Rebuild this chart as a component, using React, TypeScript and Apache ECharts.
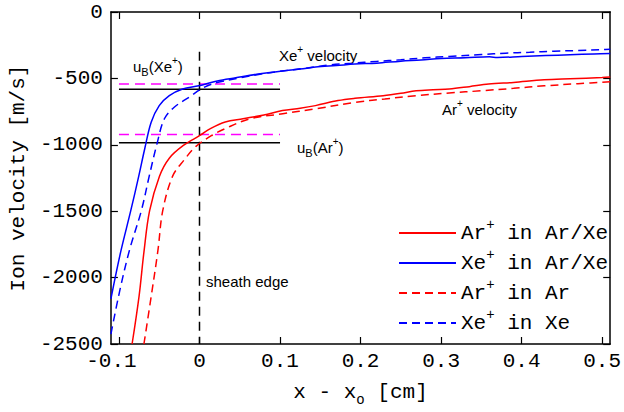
import React, { useEffect, useRef } from "react";
import * as echarts from "echarts";

const X_MIN = -0.11;
const X_MAX = 0.51;
const Y_MIN = -2500;
const Y_MAX = 0;
const Y_STEP = 500;
const xTickValues = [-0.1, 0, 0.1, 0.2, 0.3, 0.4, 0.5];

// Ar+ in Ar/Xe (red solid)
const arInArXe: [number, number][] = [
  [-0.0837, -2500], [-0.0751, -2143], [-0.069, -1808], [-0.062, -1498], [-0.0498, -1238],
  [-0.0375, -1101], [-0.02, -1005], [0.001, -928], [0.0135, -878], [0.032, -828],
  [0.054, -804], [0.08, -775], [0.103, -742], [0.125, -725], [0.144, -705],
  [0.172, -667], [0.193, -650], [0.228, -630], [0.25, -612], [0.269, -593],
  [0.29, -585], [0.31, -580], [0.335, -562], [0.359, -543], [0.39, -530],
  [0.428, -511], [0.46, -503], [0.5, -494], [0.51, -490],
];
// Xe+ in Ar/Xe (blue solid)
const xeInArXe: [number, number][] = [
  [-0.11, -2160], [-0.098, -1810], [-0.0855, -1500], [-0.0755, -1238], [-0.068, -1030],
  [-0.06, -830], [-0.05, -705], [-0.0375, -630], [-0.021, -580], [-0.001, -556],
  [0.022, -519], [0.045, -495], [0.071, -469], [0.103, -444], [0.125, -430],
  [0.144, -414], [0.17, -403], [0.193, -392], [0.22, -385], [0.25, -370],
  [0.275, -362], [0.3, -350], [0.33, -345], [0.36, -337], [0.37, -343],
  [0.4, -335], [0.43, -328], [0.46, -322], [0.49, -316], [0.51, -312],
];
// Ar+ in Ar (red dashed)
const arInAr: [number, number][] = [
  [-0.069, -2500], [-0.06, -2143], [-0.0515, -1790], [-0.0457, -1498], [-0.0335, -1238],
  [-0.0191, -1114], [-0.004, -1010], [0.0156, -928], [0.0319, -878], [0.0625, -804],
  [0.1034, -766], [0.1442, -729], [0.1933, -680], [0.23, -655], [0.269, -630],
  [0.31, -610], [0.35, -593], [0.39, -575], [0.428, -556], [0.47, -540], [0.51, -526],
];
// Xe+ in Xe (blue dashed)
const xeInXe: [number, number][] = [
  [-0.11, -2425], [-0.0988, -2093], [-0.0868, -1790], [-0.0723, -1498], [-0.0625, -1238],
  [-0.0527, -990], [-0.0436, -804], [-0.0314, -717], [-0.013, -642], [0.0054, -568],
  [0.0217, -531], [0.05, -497], [0.075, -468], [0.1, -447], [0.13, -425],
  [0.16, -400], [0.19, -385], [0.22, -372], [0.25, -360], [0.28, -345],
  [0.31, -335], [0.35, -320], [0.38, -310], [0.41, -303], [0.44, -295],
  [0.47, -290], [0.5, -283], [0.51, -280],
];

const bohmSpanX = [-0.1, 0.1];
const bohmXePure = -582;
const bohmXeMix = -543;
const bohmArPure = -985;
const bohmArMix = -923;
const sheathX = 0;
const sheathSpanY = [-300, -2500];

const legendNames = ["Ar+ in Ar/Xe", "Xe+ in Ar/Xe", "Ar+ in Ar", "Xe+ in Xe"];
const legendRich = [
  "{m|Ar}{s|+}{m| in Ar/Xe}",
  "{m|Xe}{s|+}{m| in Ar/Xe}",
  "{m|Ar}{s|+}{m| in Ar}",
  "{m|Xe}{s|+}{m| in Xe}",
];

const MONO = "'Liberation Mono', 'Courier New', monospace";
const SANS = "'Liberation Sans', Arial, sans-serif";
const MONO_SIZE = 21;

export default function App() {
  const ref = useRef<HTMLDivElement>(null);

  useEffect(() => {
    document.body.style.margin = "0";
    const chart = echarts.init(ref.current!, null, { renderer: "svg" });

    const curve = (name: string, data: [number, number][], color: string, dashed: boolean) => ({
      type: "line",
      name,
      data,
      symbol: "none",
      showSymbol: false,
      smooth: 0.35,
      silent: true,
      z: 4,
      lineStyle: { color, width: 1.5, type: dashed ? [8, 5] : "solid" },
      itemStyle: { color: "rgba(0,0,0,0)" },
      emphasis: { disabled: true },
    });

    const refLine = (xs: number[], ys: number[], color: string, dashed: number[] | null) => ({
      type: "line",
      data: xs.map((x, i) => [x, ys[i]]),
      symbol: "none",
      silent: true,
      z: 3,
      lineStyle: { color, width: 1.5, type: dashed ? dashed : "solid" },
      emphasis: { disabled: true },
    });

    const richMono = {
      m: { fontFamily: MONO, fontSize: MONO_SIZE, color: "#000", lineHeight: 30 },
      s: { fontFamily: MONO, fontSize: 14, color: "#000", lineHeight: 14, verticalAlign: "top" },
    };

    const richSans = {
      n: { fontFamily: SANS, fontSize: 15, fill: "#000", lineHeight: 22 },
      s: { fontFamily: SANS, fontSize: 10, fill: "#000", lineHeight: 10, verticalAlign: "top" },
      b: { fontFamily: SANS, fontSize: 11, fill: "#000", lineHeight: 11, verticalAlign: "bottom" },
    };

    const axisCommon = {
      type: "value",
      axisLine: { show: true, onZero: false, lineStyle: { color: "#000", width: 1.5 } },
      splitLine: { show: false },
    };

    const label = (x: number, y: number, text: string) => ({
      type: "text",
      x,
      y,
      silent: true,
      style: { text, rich: richSans, verticalAlign: "middle", align: "left", fill: "#000", font: `15px ${SANS}` },
    });

    chart.setOption({
      animation: false,
      backgroundColor: "#fff",
      grid: { left: 107, right: 11, top: 12, bottom: 64, containLabel: false },
      xAxis: [
        {
          ...axisCommon,
          position: "bottom",
          min: X_MIN,
          max: X_MAX,
          axisTick: { inside: true, length: 7, customValues: xTickValues, lineStyle: { color: "#000", width: 1.2 } },
          axisLabel: {
            customValues: xTickValues,
            fontFamily: MONO,
            fontSize: MONO_SIZE,
            color: "#000",
            margin: 7,
            formatter: (v: number) => {
              const s = String(Math.round(v * 10) / 10);
              return v < 0 ? `{neg|${s}}` : s;
            },
            rich: {
              neg: { fontFamily: MONO, fontSize: MONO_SIZE, color: "#000", padding: [0, 15, 0, 0] },
            },
          },
          name: "{m|x - x}{o|o}{m| [cm]}",
          nameLocation: "middle",
          nameGap: 33,
          nameTextStyle: {
            fontFamily: MONO,
            fontSize: MONO_SIZE,
            color: "#000",
            rich: {
              m: { fontFamily: MONO, fontSize: MONO_SIZE, color: "#000", lineHeight: 30 },
              o: { fontFamily: MONO, fontSize: 14, color: "#000", lineHeight: 14, verticalAlign: "bottom" },
            },
          },
        },
        {
          ...axisCommon,
          position: "top",
          min: X_MIN,
          max: X_MAX,
          axisTick: { inside: true, length: 7, customValues: xTickValues, lineStyle: { color: "#000", width: 1.2 } },
          axisLabel: { show: false },
        },
      ],
      yAxis: [
        {
          ...axisCommon,
          position: "left",
          min: Y_MIN,
          max: Y_MAX,
          interval: Y_STEP,
          axisTick: { inside: true, length: 7, lineStyle: { color: "#000", width: 1.2 } },
          axisLabel: { fontFamily: MONO, fontSize: MONO_SIZE, color: "#000", margin: 8, formatter: (v: number) => String(v) },
          name: "Ion velocity [m/s]",
          nameLocation: "middle",
          nameGap: 79,
          nameTextStyle: { fontFamily: MONO, fontSize: MONO_SIZE, color: "#000" },
        },
        {
          ...axisCommon,
          position: "right",
          min: Y_MIN,
          max: Y_MAX,
          interval: Y_STEP,
          axisTick: { inside: true, length: 7, lineStyle: { color: "#000", width: 1.2 } },
          axisLabel: { show: false },
        },
      ],
      legend: {
        data: legendNames,
        orient: "vertical",
        left: 393,
        top: 213,
        itemWidth: 57,
        itemHeight: 30,
        itemGap: 3,
        selectedMode: false,
        itemStyle: { opacity: 0 },
        formatter: (n: string) => legendRich[legendNames.indexOf(n)],
        textStyle: { fontFamily: MONO, fontSize: MONO_SIZE, color: "#000", rich: richMono },
      },
      series: [
        refLine(bohmSpanX, [bohmXeMix, bohmXeMix], "#ff00ff", [10, 6]),
        refLine(bohmSpanX, [bohmXePure, bohmXePure], "#000000", null),
        refLine(bohmSpanX, [bohmArMix, bohmArMix], "#ff00ff", [10, 6]),
        refLine(bohmSpanX, [bohmArPure, bohmArPure], "#000000", null),
        refLine([sheathX, sheathX], sheathSpanY, "#000000", [9, 6]),
        curve(legendNames[0], arInArXe, "#ff0000", false),
        curve(legendNames[1], xeInArXe, "#0000ff", false),
        curve(legendNames[2], arInAr, "#ff0000", true),
        curve(legendNames[3], xeInXe, "#0000ff", true),
      ],
      graphic: [
        label(206, 281, "{n|sheath edge}"),
        label(279, 55, "{n|Xe}{s|+}{n| velocity}"),
        label(442, 109, "{n|Ar}{s|+}{n| velocity}"),
        label(133, 66, "{n|u}{b|B}{n|(Xe}{s|+}{n|)}"),
        label(297, 147, "{n|u}{b|B}{n|(Ar}{s|+}{n|)}"),
      ],
    });

    return () => chart.dispose();
  }, []);

  return <div ref={ref} style={{ width: 624, height: 412 }} />;
}
